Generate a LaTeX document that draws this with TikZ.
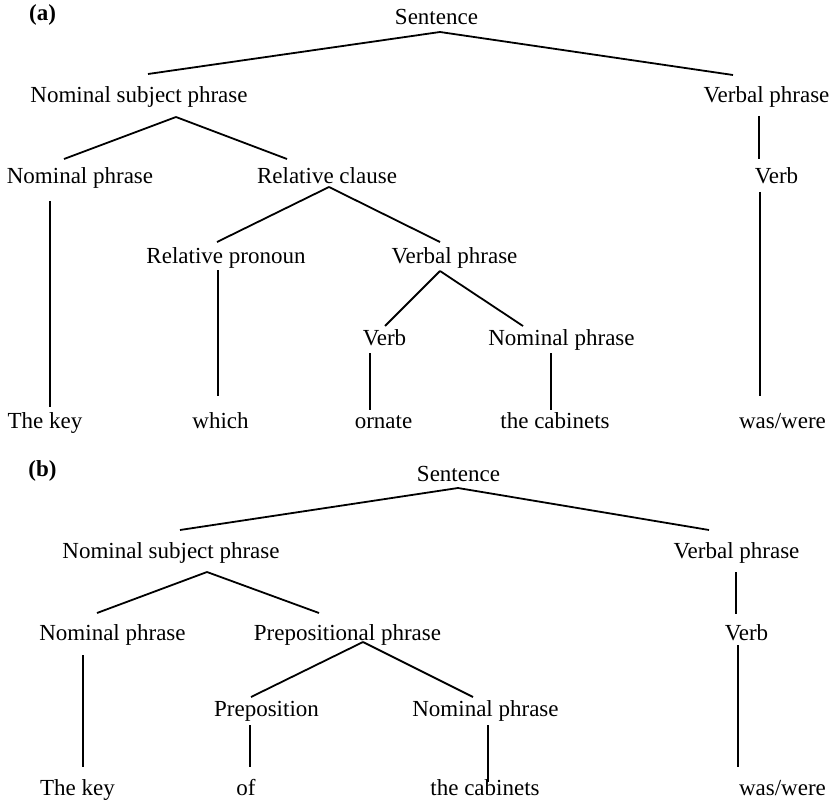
\documentclass[tikz,border=0pt]{standalone}
\usepackage{fontspec}
\setmainfont{Liberation Serif}
\usetikzlibrary{calc}

\begin{document}
\begin{tikzpicture}[x=1pt,y=-1pt]
\tikzstyle{word} = [anchor=base, inner sep=0pt, font=\fontsize{23}{27}\selectfont]
\tikzstyle{panel} = [word, font=\fontsize{23}{27}\selectfont\bfseries]
\tikzstyle{branch} = [draw=black, line width=1.8pt]

\useasboundingbox (0,0) rectangle (835,805);

% tree (a)
\node[panel] (tagA) at (42.5,21) {(a)};
\node[word] (Sa) at (436.5,25) {Sentence};
\node[word] (NSPa) at (139,103) {Nominal subject phrase};
\node[word] (VPa) at (766.5,103) {Verbal phrase};
\node[word] (NPa) at (80,184) {Nominal phrase};
\node[word] (RCa) at (327,184) {Relative clause};
\node[word] (Va) at (776.5,184) {Verb};
\node[word] (RPa) at (226,263) {Relative pronoun};
\node[word] (VPVa) at (454.5,263) {Verbal phrase};
\node[word] (VVa) at (384.5,345) {Verb};
\node[word] (NPVa) at (561.5,345) {Nominal phrase};
\node[word] (Keya) at (45,428) {The key};
\node[word] (Whicha) at (220.5,428) {which};
\node[word] (Ornatea) at (383.5,428) {ornate};
\node[word] (Caba) at (555,428) {the cabinets};
\node[word] (Wasa) at (782.5,428) {was/were};

\path[branch] ($(Sa.base)+(3.5,7)$) -- ($(NSPa.base)+(9,-29)$);
\path[branch] ($(Sa.base)+(3.5,7)$) -- ($(VPa.base)+(-33.5,-28)$);
\path[branch] ($(VPa.base)+(-7.5,13)$) -- ($(Va.base)+(-17.5,-25)$);
\path[branch] ($(Va.base)+(-16.5,8)$) -- ($(Wasa.base)+(-22.5,-32)$);
\path[branch] ($(NSPa.base)+(37,14)$) -- ($(NPa.base)+(-16,-25)$);
\path[branch] ($(NSPa.base)+(37,14)$) -- ($(RCa.base)+(-40,-25)$);
\path[branch] ($(NPa.base)+(-30,17)$) -- ($(Keya.base)+(5,-21)$);
\path[branch] ($(RCa.base)+(2,3)$) -- ($(RPa.base)+(-9,-21)$);
\path[branch] ($(RCa.base)+(2,3)$) -- ($(VPVa.base)+(-14.5,-21)$);
\path[branch] ($(RPa.base)+(-8,7)$) -- ($(Whicha.base)+(-2.5,-32)$);
\path[branch] ($(VPVa.base)+(-14.5,8)$) -- ($(VVa.base)+(0.5,-19)$);
\path[branch] ($(VPVa.base)+(-14.5,8)$) -- ($(NPVa.base)+(-38.5,-19)$);
\path[branch] ($(VVa.base)+(-14.5,8)$) -- ($(Ornatea.base)+(-13.5,-18)$);
\path[branch] ($(NPVa.base)+(-10.5,8)$) -- ($(Caba.base)+(-4,-18)$);

% tree (b)
\node[panel] (tagB) at (42.5,476) {(b)};
\node[word] (Sb) at (458.5,481) {Sentence};
\node[word] (NSPb) at (171,558) {Nominal subject phrase};
\node[word] (VPb) at (736.5,558) {Verbal phrase};
\node[word] (NPb) at (112.5,640) {Nominal phrase};
\node[word] (PPb) at (347.5,640) {Prepositional phrase};
\node[word] (Vb) at (746.5,640) {Verb};
\node[word] (Prepb) at (266.5,716) {Preposition};
\node[word] (NPPb) at (485.5,716) {Nominal phrase};
\node[word] (Keyb) at (77.5,795) {The key};
\node[word] (Ofb) at (246,795) {of};
\node[word] (Cabb) at (485,795) {the cabinets};
\node[word] (Wasb) at (782.5,795) {was/were};

\path[branch] ($(Sb.base)+(-0.5,7)$) -- ($(NSPb.base)+(9,-28)$);
\path[branch] ($(Sb.base)+(-0.5,7)$) -- ($(VPb.base)+(-27.5,-28)$);
\path[branch] ($(VPb.base)+(-0.5,14)$) -- ($(Vb.base)+(-10.5,-26)$);
\path[branch] ($(Vb.base)+(-8.5,5)$) -- ($(Wasb.base)+(-44.5,-28)$);
\path[branch] ($(NSPb.base)+(36,14)$) -- ($(NPb.base)+(-15.5,-27)$);
\path[branch] ($(NSPb.base)+(36,14)$) -- ($(PPb.base)+(-28.5,-27)$);
\path[branch] ($(NPb.base)+(-29.5,15)$) -- ($(Keyb.base)+(5.5,-28)$);
\path[branch] ($(PPb.base)+(15.5,2)$) -- ($(Prepb.base)+(-15.5,-19)$);
\path[branch] ($(PPb.base)+(15.5,2)$) -- ($(NPPb.base)+(-12.5,-19)$);
\path[branch] ($(Prepb.base)+(-16.5,9)$) -- ($(Ofb.base)+(4,-28)$);
\path[branch] ($(NPPb.base)+(2.5,9)$) -- ($(Cabb.base)+(3,-13)$);
\end{tikzpicture}
\end{document}
